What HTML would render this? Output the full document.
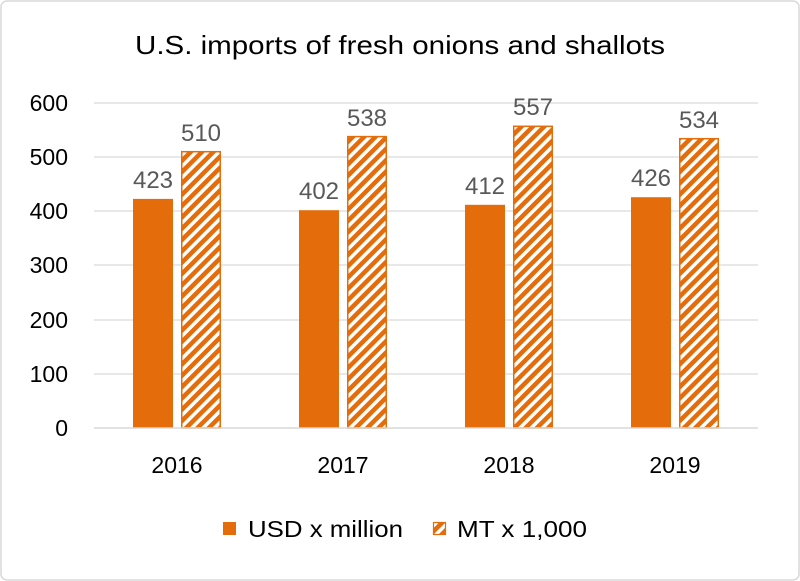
<!DOCTYPE html>
<html><head><meta charset="utf-8"><style>
html,body{margin:0;padding:0;background:#fff}
svg{display:block;font-family:"Liberation Sans",Carlito,sans-serif}
</style></head><body>
<svg width="800" height="581" viewBox="0 0 800 581">
<defs>
<pattern id="h" patternUnits="userSpaceOnUse" width="8" height="8" patternTransform="rotate(45)">
<rect width="8" height="8" fill="#fff"/>
<rect width="4.5" height="8" fill="#E46C0A"/>
</pattern>
</defs>
<rect x="1" y="1" width="798" height="579" rx="6" fill="#fff" stroke="#d9d9d9" stroke-width="1.5"/>
<text x="135" y="54" font-size="26" textLength="530" lengthAdjust="spacingAndGlyphs" fill="#000">U.S. imports of fresh onions and shallots</text>
<g stroke="#d9d9d9" stroke-width="1.3">
<line x1="94" x2="758" y1="103" y2="103"/>
<line x1="94" x2="758" y1="157" y2="157"/>
<line x1="94" x2="758" y1="211" y2="211"/>
<line x1="94" x2="758" y1="265" y2="265"/>
<line x1="94" x2="758" y1="320" y2="320"/>
<line x1="94" x2="758" y1="374" y2="374"/>
</g>
<g font-size="23" fill="#000" text-anchor="end">
<text x="68" y="111">600</text>
<text x="68" y="165">500</text>
<text x="68" y="219">400</text>
<text x="68" y="273">300</text>
<text x="68" y="328">200</text>
<text x="68" y="382">100</text>
<text x="68" y="436">0</text>
</g>
<g fill="#E46C0A">
<rect x="133" y="198.9" width="40" height="229.1"/>
<rect x="299" y="210.2" width="40" height="217.8"/>
<rect x="465" y="204.8" width="40" height="223.2"/>
<rect x="631" y="197.2" width="40" height="230.8"/>
</g>
<g fill="url(#h)" stroke="#E46C0A" stroke-width="1.5">
<rect x="181.75" y="151.7" width="38.5" height="276.3"/>
<rect x="347.75" y="136.6" width="38.5" height="291.4"/>
<rect x="513.75" y="126.3" width="38.5" height="301.7"/>
<rect x="679.75" y="138.7" width="38.5" height="289.3"/>
</g>
<line x1="94" x2="758" y1="428" y2="428" stroke="#d9d9d9" stroke-width="1.5"/>
<g font-size="24" fill="#595959" text-anchor="middle">
<text x="153" y="188">423</text><text x="201" y="141">510</text>
<text x="319" y="199">402</text><text x="367" y="126">538</text>
<text x="485" y="194">412</text><text x="533" y="115">557</text>
<text x="651" y="186">426</text><text x="699" y="128">534</text>
</g>
<g font-size="23" fill="#000" text-anchor="middle">
<text x="177" y="473">2016</text>
<text x="343" y="473">2017</text>
<text x="509" y="473">2018</text>
<text x="675" y="473">2019</text>
</g>
<rect x="223" y="522" width="13" height="13" fill="#E46C0A"/>
<text x="248" y="537" font-size="23" textLength="155" lengthAdjust="spacingAndGlyphs" fill="#000">USD x million</text>
<rect x="433.5" y="522.5" width="12" height="12" fill="url(#h)" stroke="#E46C0A" stroke-width="1.2"/>
<text x="457" y="537" font-size="23" textLength="130" lengthAdjust="spacingAndGlyphs" fill="#000">MT x 1,000</text>
</svg>
</body></html>
